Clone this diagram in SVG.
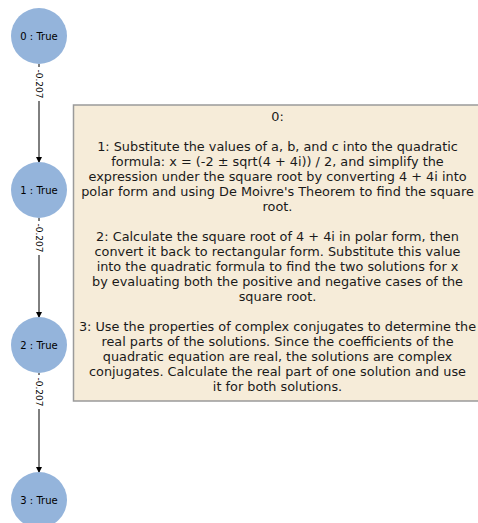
<svg xmlns="http://www.w3.org/2000/svg" width="478" height="523" viewBox="0 0 478 523">
<style>
.node circle{fill:#94b4db;}
.node text{font-family:"DejaVu Sans",sans-serif;font-size:10px;fill:#000;text-anchor:middle;}
.edge line{stroke:#000;stroke-width:1;}
.elabel{font-family:"DejaVu Sans",sans-serif;font-size:9px;fill:#000;text-anchor:middle;}
.box text{font-family:"DejaVu Sans",sans-serif;font-size:12.85px;fill:#1a1a1a;text-anchor:middle;}
</style>
<defs>
<marker id="arr" viewBox="0 0 10 10" refX="10" refY="5" markerWidth="6" markerHeight="6" markerUnits="userSpaceOnUse" orient="auto">
<path d="M0,0 L10,5 L0,10 z" fill="#000"/>
</marker>
</defs>
<rect width="478" height="523" fill="#fff"/>
<g id="connectors" class="edge">
<line x1="39" y1="64" x2="39" y2="163" marker-end="url(#arr)"/>
<line x1="39" y1="218" x2="39" y2="318" marker-end="url(#arr)"/>
<line x1="39" y1="373" x2="39" y2="473" marker-end="url(#arr)"/>
<rect x="33" y="67" width="12" height="34" fill="#fff"/>
<rect x="33" y="221" width="12" height="34" fill="#fff"/>
<rect x="33" y="375" width="12" height="34" fill="#fff"/>
<text class="elabel" transform="translate(39,84) rotate(90)" y="3">-0.207</text>
<text class="elabel" transform="translate(39,238) rotate(90)" y="3">-0.207</text>
<text class="elabel" transform="translate(39,392) rotate(90)" y="3">-0.207</text>
</g>
<g id="node0" class="node"><circle cx="39" cy="36" r="28"/><text x="39" y="40">0 : True</text></g>
<g id="node1" class="node"><circle cx="39" cy="190" r="28"/><text x="39" y="194">1 : True</text></g>
<g id="node2" class="node"><circle cx="39" cy="345" r="28"/><text x="39" y="349">2 : True</text></g>
<g id="node3" class="node"><circle cx="39" cy="500" r="28"/><text x="39" y="504">3 : True</text></g>
<g id="textbox" class="box">
<rect x="73.5" y="105" width="406" height="296" fill="#f6ecd9" stroke="#9a9a9a" stroke-width="1.5"/>
<text x="277.5" y="120.5">0:</text>
<text x="277.5" y="150.5">1: Substitute the values of a, b, and c into the quadratic</text>
<text x="277.5" y="165.5">formula: x = (-2 ± sqrt(4 + 4i)) / 2, and simplify the</text>
<text x="277.5" y="180.5">expression under the square root by converting 4 + 4i into</text>
<text x="277.5" y="195.5">polar form and using De Moivre's Theorem to find the square</text>
<text x="277.5" y="210.5">root.</text>
<text x="277.5" y="240.5">2: Calculate the square root of 4 + 4i in polar form, then</text>
<text x="277.5" y="255.5">convert it back to rectangular form. Substitute this value</text>
<text x="277.5" y="270.5">into the quadratic formula to find the two solutions for x</text>
<text x="277.5" y="285.5">by evaluating both the positive and negative cases of the</text>
<text x="277.5" y="300.5">square root.</text>
<text x="277.5" y="330.5">3: Use the properties of complex conjugates to determine the</text>
<text x="277.5" y="345.5">real parts of the solutions. Since the coefficients of the</text>
<text x="277.5" y="360.5">quadratic equation are real, the solutions are complex</text>
<text x="277.5" y="375.5">conjugates. Calculate the real part of one solution and use</text>
<text x="277.5" y="390.5">it for both solutions.</text>
</g>
</svg>
